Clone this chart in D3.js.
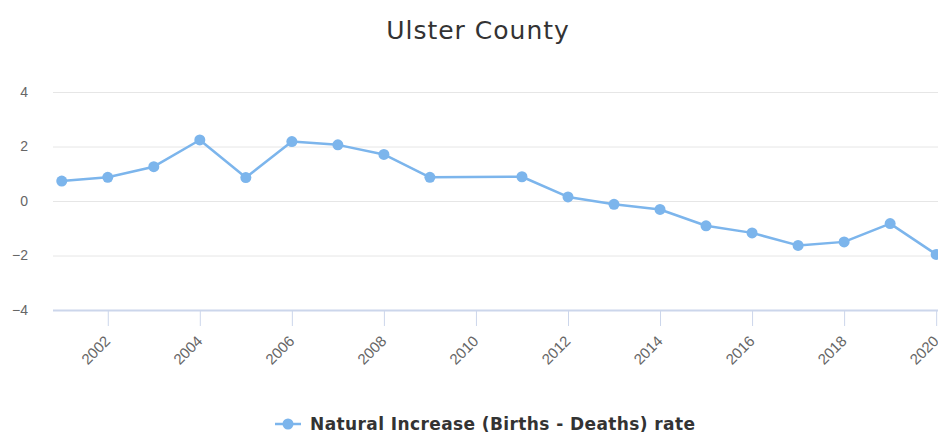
<!DOCTYPE html>
<html>
<head>
<meta charset="utf-8">
<script src="https://cdn.jsdelivr.net/npm/d3@7"></script>
<style>
  body { margin: 0; background: #fff; }
  svg { display: block; font-family: "DejaVu Sans", sans-serif; }
  .grid line { stroke: #e6e6e6; }
  .grid path { display: none; }
  .x.axis path, .x.axis line { stroke: #ccd6eb; }
  .x.axis text, .y.axis text { fill: #666; }
  .y.axis path, .y.axis line { display: none; }
</style>
</head>
<body>
<svg id="chart" width="938" height="437"></svg>
<script>
// data
const years = [2001, 2002, 2003, 2004, 2005, 2006, 2007, 2008, 2009,
               2011, 2012, 2013, 2014, 2015, 2016, 2017, 2018, 2019, 2020]
const rates = [0.73, 0.87, 1.26, 2.24, 0.86, 2.18, 2.06, 1.71, 0.87,
               0.89, 0.15, -0.12, -0.31, -0.91, -1.17, -1.63, -1.5, -0.83, -1.96]
const xTicks = [2002, 2004, 2006, 2008, 2010, 2012, 2014, 2016, 2018, 2020]
const yTicks = [-4, -2, 0, 2, 4]
const title = "Ulster County"
const seriesName = "Natural Increase (Births - Deaths) rate"

const color = "#7cb5ec"
const plot = { left: 53, right: 938, top: 92, bottom: 310 }

const svg = d3.select("#chart")

const xScale = d3.scaleLinear().domain([2000.81, 2020.04]).range([plot.left, plot.right])
const yScale = d3.scaleLinear().domain([-4, 4]).range([plot.bottom, plot.top])

// title
svg.append("text")
    .attr("x", 478)
    .attr("y", 39)
    .attr("text-anchor", "middle")
    .style("font-size", "25px")
    .style("letter-spacing", "1px")
    .style("fill", "#333")
    .text(title)

// horizontal grid
svg.append("g")
    .attr("class", "grid")
    .attr("transform", `translate(${plot.left}, 0)`)
    .call(d3.axisLeft(yScale).tickValues(yTicks.filter(d => d > -4))
        .tickSize(-(plot.right - plot.left)).tickFormat(""))

// y axis labels
svg.append("g")
    .attr("class", "y axis")
    .attr("transform", `translate(${plot.left - 25}, 0)`)
    .call(d3.axisLeft(yScale).tickValues(yTicks).tickSize(0)
        .tickFormat(d => d < 0 ? "\u2212" + Math.abs(d) : d))
    .selectAll("text")
    .style("font-size", "14px")
    .attr("x", 0)
    .attr("text-anchor", "end")

// x axis
const xAxis = svg.append("g")
    .attr("class", "x axis")
    .attr("transform", `translate(0, ${plot.bottom})`)
    .call(d3.axisBottom(xScale).tickValues(xTicks).tickSize(16).tickSizeOuter(0)
        .tickFormat(d3.format("d")))
xAxis.select(".domain").attr("d", `M${plot.left},0.5H${plot.right}`).style("stroke-width", 2)
xAxis.selectAll("text")
    .style("font-size", "15px")
    .attr("text-anchor", "end")
    .attr("dy", null)
    .attr("y", 0)
    .attr("transform", "translate(3, 32) rotate(-45)")

// line
const line = d3.line()
    .x((d, i) => xScale(years[i]))
    .y(d => yScale(d))

svg.append("path")
    .datum(rates)
    .attr("fill", "none")
    .attr("stroke", color)
    .attr("stroke-width", 2.5)
    .attr("stroke-linejoin", "round")
    .attr("d", line)

svg.append("g")
    .selectAll("circle")
    .data(rates)
    .join("circle")
    .attr("cx", (d, i) => xScale(years[i]))
    .attr("cy", d => yScale(d))
    .attr("r", 5.5)
    .attr("fill", color)

// legend
const legend = svg.append("g").attr("transform", "translate(288, 424)")
legend.append("line")
    .attr("x1", -13).attr("x2", 13)
    .attr("stroke", color).attr("stroke-width", 2.5)
legend.append("circle").attr("r", 5.5).attr("fill", color)
legend.append("text")
    .attr("x", 22)
    .attr("dy", "0.35em")
    .style("font-size", "17px")
    .style("letter-spacing", "0.4px")
    .style("font-weight", "bold")
    .style("fill", "#333")
    .text(seriesName)
</script>
</body>
</html>
